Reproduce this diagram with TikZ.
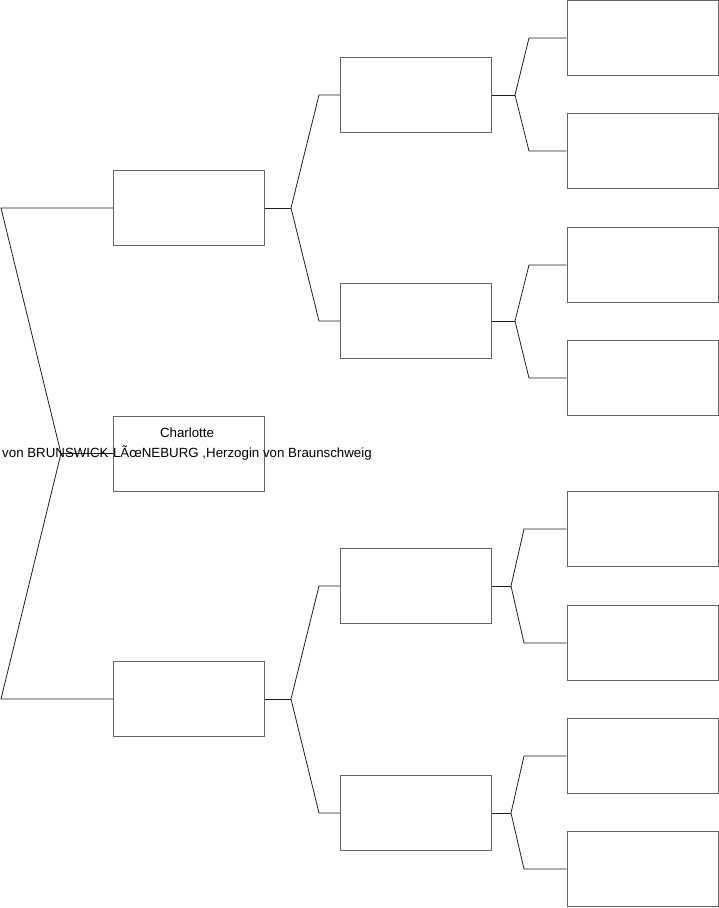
\documentclass[tikz,border=0pt]{standalone}
\usepackage{fontspec}
\setmainfont{Liberation Sans}
\usepackage{tikz}
\definecolor{BoxEdge}{RGB}{100,100,100}
\definecolor{LinkDark}{RGB}{30,30,30}

\begin{document}
\begin{tikzpicture}[
    x=1pt, y=-1pt,
    box/.style={
      draw=BoxEdge,
      line width=0.9pt,
      fill=white,
      minimum width=151pt,
      minimum height=75pt,
      inner sep=0pt
    },
    name text/.style={
      align=center,
      font=\fontsize{13.3}{20}\selectfont
    },
    link/.style={draw=LinkDark, line width=0.8pt}
  ]
    \useasboundingbox (0,0) rectangle (719,908);

    % generation 0
    \node[box] (root) at (189,453.5) {};
    % generation 1
    \node[box] (par-1) at (189,208) {};
    \node[box] (par-2) at (189,699) {};
    % generation 2
    \node[box] (gp-1) at (416,95) {};
    \node[box] (gp-2) at (416,321) {};
    \node[box] (gp-3) at (416,586) {};
    \node[box] (gp-4) at (416,813) {};
    % generation 3
    \node[box] (ggp-1) at (642.5,38) {};
    \node[box] (ggp-2) at (642.5,151) {};
    \node[box] (ggp-3) at (642.5,265) {};
    \node[box] (ggp-4) at (642.5,378) {};
    \node[box] (ggp-5) at (642.5,529) {};
    \node[box] (ggp-6) at (642.5,643) {};
    \node[box] (ggp-7) at (642.5,756) {};
    \node[box] (ggp-8) at (642.5,869) {};

    % forks
    \coordinate (root-fork) at (61,453.5);
    \coordinate (root-up) at (1,208);
    \coordinate (root-down) at (1,699);
    \coordinate (par-1-fork) at (291,208);
    \coordinate (par-1-up) at (319,95);
    \coordinate (par-1-down) at (319,321);
    \coordinate (par-2-fork) at (291,699);
    \coordinate (par-2-up) at (319,586);
    \coordinate (par-2-down) at (319,813);
    \coordinate (gp-1-fork) at (515,95);
    \coordinate (gp-1-up) at (529,38);
    \coordinate (gp-1-down) at (529,151);
    \coordinate (gp-2-fork) at (515,321);
    \coordinate (gp-2-up) at (529,265);
    \coordinate (gp-2-down) at (529,378);
    \coordinate (gp-3-fork) at (511,586);
    \coordinate (gp-3-up) at (524,529);
    \coordinate (gp-3-down) at (524,643);
    \coordinate (gp-4-fork) at (511,813);
    \coordinate (gp-4-up) at (524,756);
    \coordinate (gp-4-down) at (524,869);

    \draw[link] (root.west) -- (root-fork);
    \draw[link] (par-1.west) -- (root-up) -- (root-fork) -- (root-down) -- (par-2.west);

    \draw[link] (par-1.east) -- (par-1-fork);
    \draw[link] (gp-1.west) -- (par-1-up) -- (par-1-fork) -- (par-1-down) -- (gp-2.west);
    \draw[link] (par-2.east) -- (par-2-fork);
    \draw[link] (gp-3.west) -- (par-2-up) -- (par-2-fork) -- (par-2-down) -- (gp-4.west);

    \draw[link] (gp-1.east) -- (gp-1-fork);
    \draw[link] (ggp-1.west) -- (gp-1-up) -- (gp-1-fork) -- (gp-1-down) -- (ggp-2.west);
    \draw[link] (gp-2.east) -- (gp-2-fork);
    \draw[link] (ggp-3.west) -- (gp-2-up) -- (gp-2-fork) -- (gp-2-down) -- (ggp-4.west);
    \draw[link] (gp-3.east) -- (gp-3-fork);
    \draw[link] (ggp-5.west) -- (gp-3-up) -- (gp-3-fork) -- (gp-3-down) -- (ggp-6.west);
    \draw[link] (gp-4.east) -- (gp-4-fork);
    \draw[link] (ggp-7.west) -- (gp-4-up) -- (gp-4-fork) -- (gp-4-down) -- (ggp-8.west);

    \node[name text] (root-name) at (187,444)
      {Charlotte\\von BRUNSWICK-LÃœNEBURG ,Herzogin von Braunschweig};
  \end{tikzpicture}
\end{document}
